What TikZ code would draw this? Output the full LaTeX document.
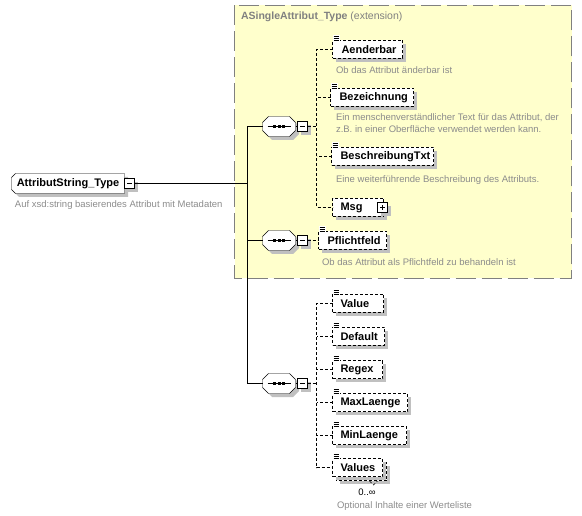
\documentclass[tikz,border=0pt]{standalone}
\usepackage{fontspec}
\setmainfont{Liberation Sans}
\usetikzlibrary{backgrounds}
\definecolor{xsdyellow}{RGB}{255,255,204}
\definecolor{xsdframe}{RGB}{128,128,128}
\definecolor{xsdnote}{RGB}{140,140,140}
\definecolor{xsdshadow}{RGB}{192,192,192}
\newcommand{\docmark}[1]{%
  \fill[white] ([shift={(0.5pt,-1pt)}]#1.north west) rectangle ([shift={(7pt,5pt)}]#1.north west);
  \foreach \k in {0,2,4} \draw[solid] ([shift={(1pt,\k pt)}]#1.north west) -- ++(5pt,0pt);
}
\newcommand{\seqmark}[1]{%
  \draw ([xshift=5pt]#1.west) -- ([xshift=-5pt]#1.east);
  \foreach \d in {-4.5,0,4.5} \fill ([xshift=\d pt]#1.center) +(-1.5pt,-1.5pt) rectangle +(1.5pt,1.5pt);
}

\begin{document}
\begin{tikzpicture}[x=1pt,y=-1pt,line width=1pt,
    chamferpath/.style n args={3}{insert path={([xshift=#2]#1.north west) -- ([xshift=-#3]#1.north east) -- ([yshift=-#3]#1.north east)
      -- ([yshift=#3]#1.south east) -- ([xshift=-#3]#1.south east) -- ([xshift=#2]#1.south west) -- ([yshift=#2]#1.south west)
      -- ([yshift=-#2]#1.north west) -- cycle}}]
  \tikzstyle{every node}+=[inner sep=0pt,outer sep=0pt]
  \tikzstyle{dropgray}=[preaction={fill=xsdshadow,transform canvas={shift={(3.5pt,-3.5pt)}}}]
  \tikzstyle{elem}=[draw,dash pattern=on 3pt off 2pt,fill=white,dropgray,anchor=west,minimum height=18pt,align=left,font=\fontsize{11}{13}\selectfont\bfseries]
  \tikzstyle{rootbox}=[anchor=west,minimum width=113pt,minimum height=20pt,font=\fontsize{11}{13}\selectfont\bfseries]
  \tikzstyle{note}=[anchor=west,align=left,text=xsdnote,font=\fontsize{9.5}{11.5}\selectfont]
  \tikzstyle{seq}=[minimum width=33pt,minimum height=20pt]
  \tikzstyle{minusbox}=[draw,solid,fill=white,dropgray,minimum size=10pt,
    path picture={\draw ([xshift=2.5pt]path picture bounding box.west) -- ([xshift=-2.5pt]path picture bounding box.east);}]
  \tikzstyle{plusbox}=[draw,solid,fill=white,dropgray,minimum size=10pt,
    path picture={\draw ([xshift=2.5pt]path picture bounding box.west) -- ([xshift=-2.5pt]path picture bounding box.east);
      \draw ([yshift=2.5pt]path picture bounding box.south) -- ([yshift=-2.5pt]path picture bounding box.north);}]
  \tikzstyle{link}=[dash pattern=on 3pt off 2pt]

  \useasboundingbox (0,0) rectangle (582,516);
  \draw[xsdframe,fill=xsdyellow,dash pattern=on 20pt off 6pt] (234.5,5.5) rectangle (571.5,278.5);
  \node[anchor=west,text=xsdframe,font=\fontsize{10.5}{12}\selectfont] (basetitle) at (241,17) {\textbf{ASingleAttribut\_Type} (extension)};

  \node[rootbox] (root) at (11.5,183.5) {AttributString\_Type};
  \begin{pgfonlayer}{background}
    \draw[fill=white,dropgray,chamferpath={root}{4pt}{0pt}];
  \end{pgfonlayer}
  \node[minusbox] (rootm) at (129.5,183.5) {};
  \node[note] (rootdoc) at (15,205) {Auf xsd:string basierendes Attribut mit Metadaten};

  \node[seq] (seqA) at (279,126.5) {};
  \node[seq] (seqB) at (279,240.5) {};
  \node[seq] (seqC) at (279,383.5) {};
  \foreach \s in {seqA,seqB,seqC} {
    \draw[fill=white,dropgray,chamferpath={\s}{6pt}{6pt}];
    \seqmark{\s}
  }
  \node[minusbox] (seqAm) at (302.5,126.5) {};
  \node[minusbox] (seqBm) at (302.5,240.5) {};
  \node[minusbox] (seqCm) at (302.5,383.5) {};

  \node[elem,text width=70pt] (aender) at (332.5,49.5) {\hspace*{9pt}Aenderbar};
  \node[note] (aenderdoc) at (336,70) {Ob das Attribut änderbar ist};
  \node[elem,text width=83pt] (bez) at (330.5,97.5) {\hspace*{9pt}Bezeichnung};
  \node[note] (bezdoc) at (336,123) {Ein menschenverständlicher Text für das Attribut, der\\z.B. in einer Oberfläche verwendet werden kann.};
  \node[elem,text width=102pt] (beschr) at (331.5,156.5) {\hspace*{9pt}BeschreibungTxt};
  \node[note] (beschrdoc) at (336,180) {Eine weiterführende Beschreibung des Attributs.};
  \node[elem,text width=51pt] (msg) at (332.5,207.5) {\hspace*{8pt}Msg};
  \node[plusbox] (msgp) at (382.5,207.5) {};
  \node[elem,text width=68pt] (pflicht) at (318.5,240.5) {\hspace*{9pt}Pflichtfeld};
  \node[note] (pflichtdoc) at (322,262) {Ob das Attribut als Pflichtfeld zu behandeln ist};

  \node[elem,text width=51pt] (value) at (332.5,303.5) {\hspace*{8pt}Value};
  \node[elem,text width=52pt] (default) at (332.5,336.5) {\hspace*{8pt}Default};
  \node[elem,text width=50pt] (regex) at (332.5,369.5) {\hspace*{8pt}Regex};
  \node[elem,text width=75pt] (maxl) at (332.5,402.5) {\hspace*{8pt}MaxLaenge};
  \node[elem,text width=74pt] (minl) at (332.5,435.5) {\hspace*{8pt}MinLaenge};
  \draw[link,fill=white,dropgray] (336.5,462.5) rectangle (386.5,480.5);
  \draw[link] (369.5,481) -- (373.5,485) -- (377.5,481);
  \node[elem,text width=50pt] (values) at (332.5,467.5) {\hspace*{8pt}Values};
  \node[font=\fontsize{9.5}{11}\selectfont] (valuescard) at (367,492) {0..∞};
  \node[note] (valuesdoc) at (337,506) {Optional Inhalte einer Werteliste};

  \docmark{aender}
  \docmark{bez}
  \docmark{beschr}
  \docmark{pflicht}
  \docmark{value}
  \docmark{default}
  \docmark{regex}
  \docmark{maxl}
  \docmark{minl}
  \docmark{values}

  \coordinate (trunk) at (247.5,183.5);
  \draw (rootm.east) -- (trunk);
  \draw (seqA.west) -| (trunk);
  \draw (seqC.west) -| (trunk);
  \draw (seqB.west) -- (seqB.west -| trunk);
  \draw (seqA.east) -- (seqAm.west);
  \draw (seqB.east) -- (seqBm.west);
  \draw (seqC.east) -- (seqCm.west);

  \coordinate (forkA) at (316.5,126.5);
  \draw[link] (seqAm.east) -- (forkA);
  \draw[link] (aender.west) -| (forkA) |- (msg.west);
  \draw[link] (bez.west) -- (bez.west -| forkA);
  \draw[link] (beschr.west) -- (beschr.west -| forkA);
  \draw[link] (seqBm.east) -- (pflicht.west);

  \coordinate (forkC) at (316.5,383.5);
  \draw[link] (seqCm.east) -- (forkC);
  \draw[link] (value.west) -| (forkC) |- (values.west);
  \foreach \n in {default,regex,maxl,minl} \draw[link] (\n.west) -- (\n.west -| forkC);
\end{tikzpicture}
\end{document}
